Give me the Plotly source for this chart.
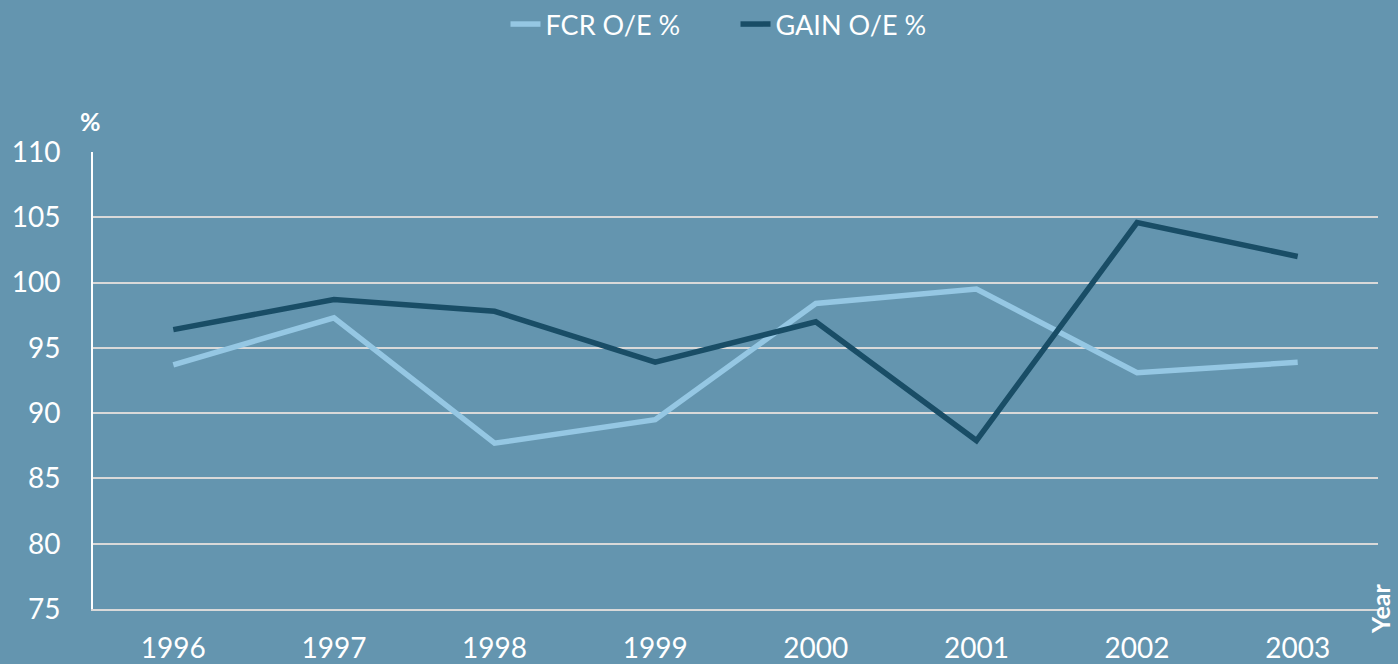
import plotly.graph_objects as go

years = ["1996", "1997", "1998", "1999", "2000", "2001", "2002", "2003"]
fcr = [93.7, 97.3, 87.7, 89.5, 98.4, 99.5, 93.1, 93.9]
gain = [96.4, 98.7, 97.8, 93.9, 97.0, 87.9, 104.6, 102.0]
y_ticks = [75, 80, 85, 90, 95, 100, 105, 110]

BG = "#6495AF"
GRID = "#D9D9D9"
FONT = "Lato, 'Open Sans', sans-serif"

fig = go.Figure()
fig.add_trace(go.Scatter(x=years, y=fcr, name="FCR O/E %", mode="lines",
                         line=dict(color="#95C7E3", width=5.5)))
fig.add_trace(go.Scatter(x=years, y=gain, name="GAIN O/E %", mode="lines",
                         line=dict(color="#194D66", width=5.5)))

fig.update_layout(
    width=1398, height=664,
    paper_bgcolor=BG, plot_bgcolor=BG,
    margin=dict(l=93, r=20, t=152, b=55, autoexpand=False),
    font=dict(family=FONT, color="white", size=27),
    showlegend=True,
    legend=dict(orientation="h", x=0.5, xanchor="center", y=1.0, yref="container",
                yanchor="top", font=dict(size=27, color="white"),
                bgcolor="rgba(0,0,0,0)", itemwidth=30, entrywidth=185,
                entrywidthmode="pixels"),
    xaxis=dict(type="category", range=[-0.5, 7.5], showgrid=False, automargin=False,
               showline=True, linecolor=GRID, linewidth=1.5, zeroline=False,
               ticks="outside", ticklen=14, tickcolor="rgba(0,0,0,0)",
               tickfont=dict(size=28, color="white")),
    yaxis=dict(range=[75, 110], tickvals=y_ticks, showgrid=True, automargin=False,
               gridcolor=GRID, gridwidth=1.5, zeroline=False,
               showline=True, linecolor="white", linewidth=2,
               ticks="outside", ticklen=25, tickcolor="rgba(0,0,0,0)",
               tickfont=dict(size=28, color="white")),
    annotations=[
        dict(text="<b>%</b>", x=0.0, y=1.0, xref="paper", yref="paper",
             xanchor="center", yanchor="bottom", xshift=-3, yshift=14,
             showarrow=False, font=dict(size=25, color="white")),
        dict(text="<b>Year</b>", textangle=-90, x=1.0, y=0.0, xref="paper", yref="paper",
             xanchor="right", yanchor="middle", xshift=19, yshift=0, showarrow=False,
             font=dict(size=25, color="white")),
    ],
)

fig.write_html("out.html", config={"displayModeBar": False},
               post_script="document.body.style.margin='0';")
